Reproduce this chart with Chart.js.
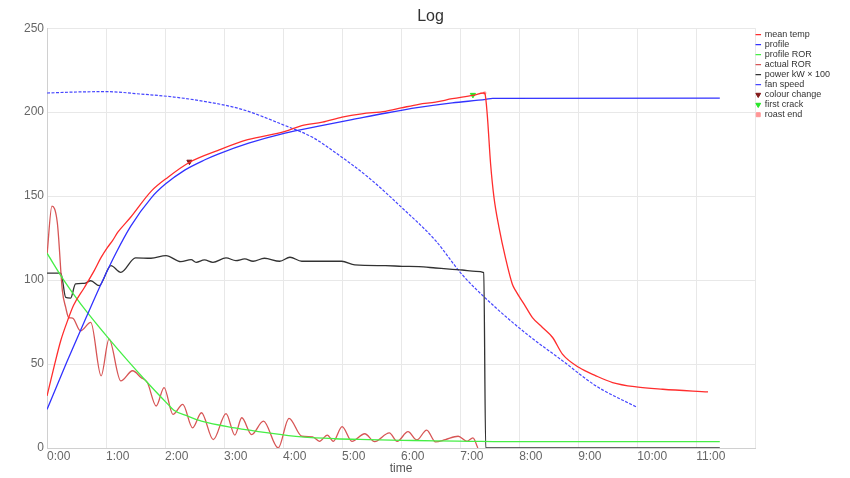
<!DOCTYPE html>
<html lang="en">
<head>
  <meta charset="UTF-8">
  <title>Log</title>
  <script src="https://cdn.jsdelivr.net/npm/chart.js"></script>
  <style>
    body { margin: 0; background: #fff; }
    #wrap { width: 850px; height: 478px; }
  </style>
</head>
<body>
  <div id="wrap"><canvas id="log"></canvas></div>

  <script>
    // times in seconds, values in degrees / % / kW x 100
    const meanTempTime = [0, 7, 14, 21, 27, 38, 48, 55, 61.5, 66.6, 72, 85, 106, 123, 145, 174, 204, 242, 259, 280, 300, 320, 344, 360, 378, 395, 412, 433, 444,
      445.2, 447.5, 451, 454.4, 459.5, 466, 473, 476.4, 485, 493.5, 503.7, 514, 524, 541, 558, 575, 599, 626, 672];
    const meanTempValues = [31, 48, 64, 76, 85, 95.6, 105.6, 113.5, 119.5, 123.5, 128.5, 137.4, 153, 161.3, 170.2, 177.3, 183.6, 188.5, 192, 194, 197, 199, 200.5, 202.5, 204.7, 206, 208, 210, 211.4,
      211, 199, 169, 149.3, 131.4, 113.5, 97.7, 93.7, 85.7, 77.7, 71.8, 65.8, 55.9, 47.9, 43, 39, 36.4, 35, 33.4];

    const profileTime = [0, 20, 40, 56, 70, 85, 106, 120, 140, 160, 174, 205, 242, 275, 310, 345, 378, 412, 446, 453, 684];
    const profileValues = [23, 51, 78, 99, 116, 132, 149, 157, 165.5, 171.5, 175, 181.5, 187.5, 191.5, 195.5, 199.5, 202.8, 205.5, 207.6, 208.2, 208.3];

    const profileRorTime = [0, 17, 34, 63, 102, 123, 129, 143, 157, 191, 225, 259, 293, 327, 361, 395, 430, 463, 684];
    const profileRorValues = [116, 100, 86, 65, 39, 26, 22.5, 19, 16, 12, 9, 6.6, 5.5, 5, 4.6, 4.2, 4, 3.8, 3.8];

    const actualRorTime = [0, 5, 10.5, 15.6, 19, 22, 26, 34, 44.5, 55, 63, 75, 87, 95.5, 102, 111, 119, 128, 138, 148, 157, 169, 182, 191, 198, 208, 220, 235,
      246, 259, 270, 277, 285, 291, 300, 310, 323, 333, 348, 356, 367, 376, 386, 395, 405, 418, 427, 433, 438];
    const actualRorValues = [115, 144, 134, 93.7, 83.7, 77.7, 77.4, 69.8, 74.8, 43, 64.8, 40, 46, 42, 39, 25, 36, 20, 26, 12, 21, 5, 20.5, 7.7, 18, 8, 16, 0,
      17.7, 7, 6.6, 4, 7.7, 4, 12.7, 4, 8.5, 3.8, 9, 4, 9.7, 4.8, 10.7, 3.6, 5, 7, 4, 6, 0];

    const powerTime = [0, 14, 19, 24, 29, 37.7, 44.5, 53, 65, 75, 90, 105.7, 121, 136, 146.5, 151.6, 160, 168.7, 182, 192, 201, 209.5, 221, 236.6, 247, 259,
      286, 299.6, 313, 344, 361, 378, 395, 412, 422, 436, 444, 446, 684];
    const powerValues = [104.2, 104.2, 89.7, 89.3, 97.7, 98, 99.6, 96.7, 108.6, 104.6, 113.2, 113, 114.6, 111, 112.2, 110.6, 112, 110.6, 113.2, 111.6, 112.6, 111.2, 113, 111.2, 113.6, 111.2,
      111.2, 111.2, 109, 108.6, 108.2, 108, 107.2, 106.4, 106, 105.2, 104.4, 0, 0];

    const fanTime = [0, 30, 61, 95, 129, 164, 198, 242, 270, 293, 327, 361, 395, 422, 456, 490, 524, 558, 599];
    const fanValues = [211.4, 212, 212.2, 210.8, 209, 206, 201.7, 192, 185, 176, 161, 143, 123.5, 103.3, 83.7, 66.8, 52, 37, 24.5];

    const colourChangeTime = [144.8];
    const colourChangeValues = [170.5];
    const firstCrackTime = [433];
    const firstCrackValues = [210.3];
    const roastEndTime = [445];
    const roastEndValues = [211.4];

    const xTickStep = 60;
    const xMax = 720;

    function points(times, values) {
      return times.map((t, i) => ({ x: t, y: values[i] }));
    }

    function fmtTime(sec) {
      const m = Math.floor(sec / 60);
      const s = Math.round(sec % 60);
      return m + ':' + (s < 10 ? '0' : '') + s;
    }

    function lineSet(label, times, values, color, extra) {
      return Object.assign({
        label: label,
        data: points(times, values),
        borderColor: color,
        backgroundColor: color,
        borderWidth: 1.3,
        pointRadius: 0,
        pointHoverRadius: 0,
        pointStyle: 'line',
        cubicInterpolationMode: 'monotone',
        fill: false
      }, extra || {});
    }

    function markerSet(label, times, values, color, style, rotation, radius) {
      return {
        label: label,
        data: points(times, values),
        showLine: false,
        borderColor: color,
        backgroundColor: color,
        borderWidth: 1,
        pointStyle: style,
        rotation: rotation,
        pointRadius: radius
      };
    }

    Chart.defaults.font.family = "'Liberation Sans', Arial, sans-serif";
    Chart.defaults.color = '#666';

    new Chart(document.getElementById('log'), {
      type: 'line',
      data: {
        datasets: [
          lineSet('mean temp', meanTempTime, meanTempValues, 'rgb(255,45,45)'),
          lineSet('profile', profileTime, profileValues, 'rgb(50,50,255)'),
          lineSet('profile ROR', profileRorTime, profileRorValues, 'rgb(70,238,70)'),
          lineSet('actual ROR', actualRorTime, actualRorValues, 'rgb(215,85,85)'),
          lineSet('power kW \u00d7 100', powerTime, powerValues, 'rgb(50,50,50)'),
          lineSet('fan speed', fanTime, fanValues, 'rgb(70,70,255)', { borderWidth: 1.2, borderDash: [3, 1.5] }),
          markerSet('colour change', colourChangeTime, colourChangeValues, 'rgb(130,25,25)', 'triangle', 180, 3),
          markerSet('first crack', firstCrackTime, firstCrackValues, 'rgb(40,230,40)', 'triangle', 180, 3),
          markerSet('roast end', roastEndTime, roastEndValues, 'rgb(255,150,150)', 'rect', 0, 1.5)
        ]
      },
      options: {
        responsive: true,
        maintainAspectRatio: false,
        animation: false,
        layout: { padding: { left: 21, right: 10, bottom: 0 } },
        scales: {
          x: {
            type: 'linear',
            min: 0,
            max: xMax,
            grid: { color: '#e8e8e8', drawTicks: false },
            border: { color: '#d0d0d0' },
            ticks: {
              stepSize: xTickStep,
              align: 'start',
              padding: 3,
              color: '#666',
              font: { size: 12, lineHeight: 1 },
              callback: v => (v >= xMax ? '' : fmtTime(v))
            },
            title: {
              display: true,
              text: 'time',
              color: '#555',
              padding: { top: -3, bottom: 3 },
              font: { size: 12, lineHeight: 1 }
            }
          },
          y: {
            min: 0,
            max: 250,
            grid: { color: '#e8e8e8', drawTicks: false },
            border: { color: '#d0d0d0' },
            ticks: {
              stepSize: 50,
              padding: 3,
              color: '#666',
              font: { size: 12 }
            }
          }
        },
        plugins: {
          title: {
            display: true,
            text: 'Log',
            color: '#333',
            font: { size: 16, weight: 'normal' },
            padding: { top: 7, bottom: 2 }
          },
          legend: {
            position: 'right',
            align: 'start',
            title: {
              display: true,
              text: ' ',
              font: { size: 1 },
              padding: { top: 28, bottom: 0 }
            },
            labels: {
              usePointStyle: true,
              boxWidth: 4,
              boxHeight: 4,
              padding: 1,
              color: '#333',
              font: { size: 9 }
            }
          },
          tooltip: { enabled: false }
        }
      }
    });
  </script>
</body>
</html>
